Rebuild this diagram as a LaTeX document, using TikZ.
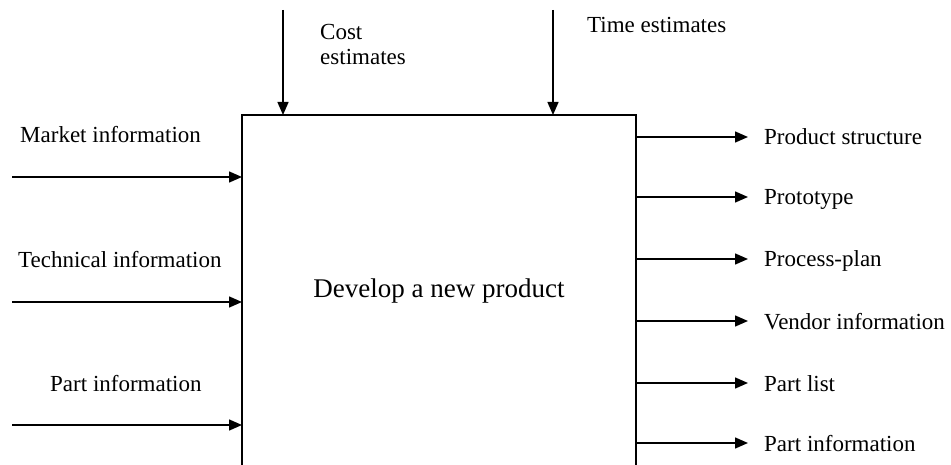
\documentclass[tikz,border=0pt]{standalone}
\usepackage{fontspec}
\setmainfont{Liberation Serif}
\usetikzlibrary{arrows.meta}
\begin{document}
\begin{tikzpicture}[x=1pt,y=-1pt,
  flow/.style={line width=1.4pt,-{Triangle[length=13pt,width=11pt]}},
  lbl/.style={inner sep=0pt,anchor=base west,font=\fontsize{23}{25}\selectfont},
  title/.style={inner sep=0pt,anchor=base,font=\fontsize{27}{30}\selectfont}]
\useasboundingbox (0,0) rectangle (951,465);
% activity box, open at the bottom
\coordinate (bl) at (242,465);
\coordinate (tl) at (242,115);
\coordinate (tr) at (636,115);
\coordinate (br) at (636,465);
\draw[line width=1.4pt] (bl) -- (tl) -- (tr) -- (br);
\node[title] (act) at (439,298) {Develop a new product};

% controls from above
\coordinate (c1) at (283,10);  \coordinate (c1e) at (283,115);
\coordinate (c2) at (553,10);  \coordinate (c2e) at (553,115);
\draw[flow] (c1) -- (c1e);
\draw[flow] (c2) -- (c2e);
\node[lbl,align=left,anchor=north west,font=\fontsize{23}{25}\selectfont] (cost) at (320,24) {Cost\\estimates};
\node[lbl] (time) at (587,33) {Time estimates};

% inputs on the left
\foreach \y/\n/\t/\lx in {177/in1/Market information/20, 302/in2/Technical information/18, 425/in3/Part information/50}{
  \coordinate (\n s) at (12,\y);
  \coordinate (\n e) at (242,\y);
  \draw[flow] (\n s) -- (\n e);
  \node[lbl] (\n l) at (\lx,\y-34) {\t};
}

% outputs on the right
\foreach \y/\n/\t in {137/o1/Product structure, 197/o2/Prototype, 259/o3/Process-plan, 321/o4/Vendor information, 383/o5/Part list, 443/o6/Part information}{
  \coordinate (\n s) at (636,\y);
  \coordinate (\n e) at (748,\y);
  \draw[flow] (\n s) -- (\n e);
  \node[lbl] (\n l) at (764,\y+8) {\t};
}
\end{tikzpicture}
\end{document}
